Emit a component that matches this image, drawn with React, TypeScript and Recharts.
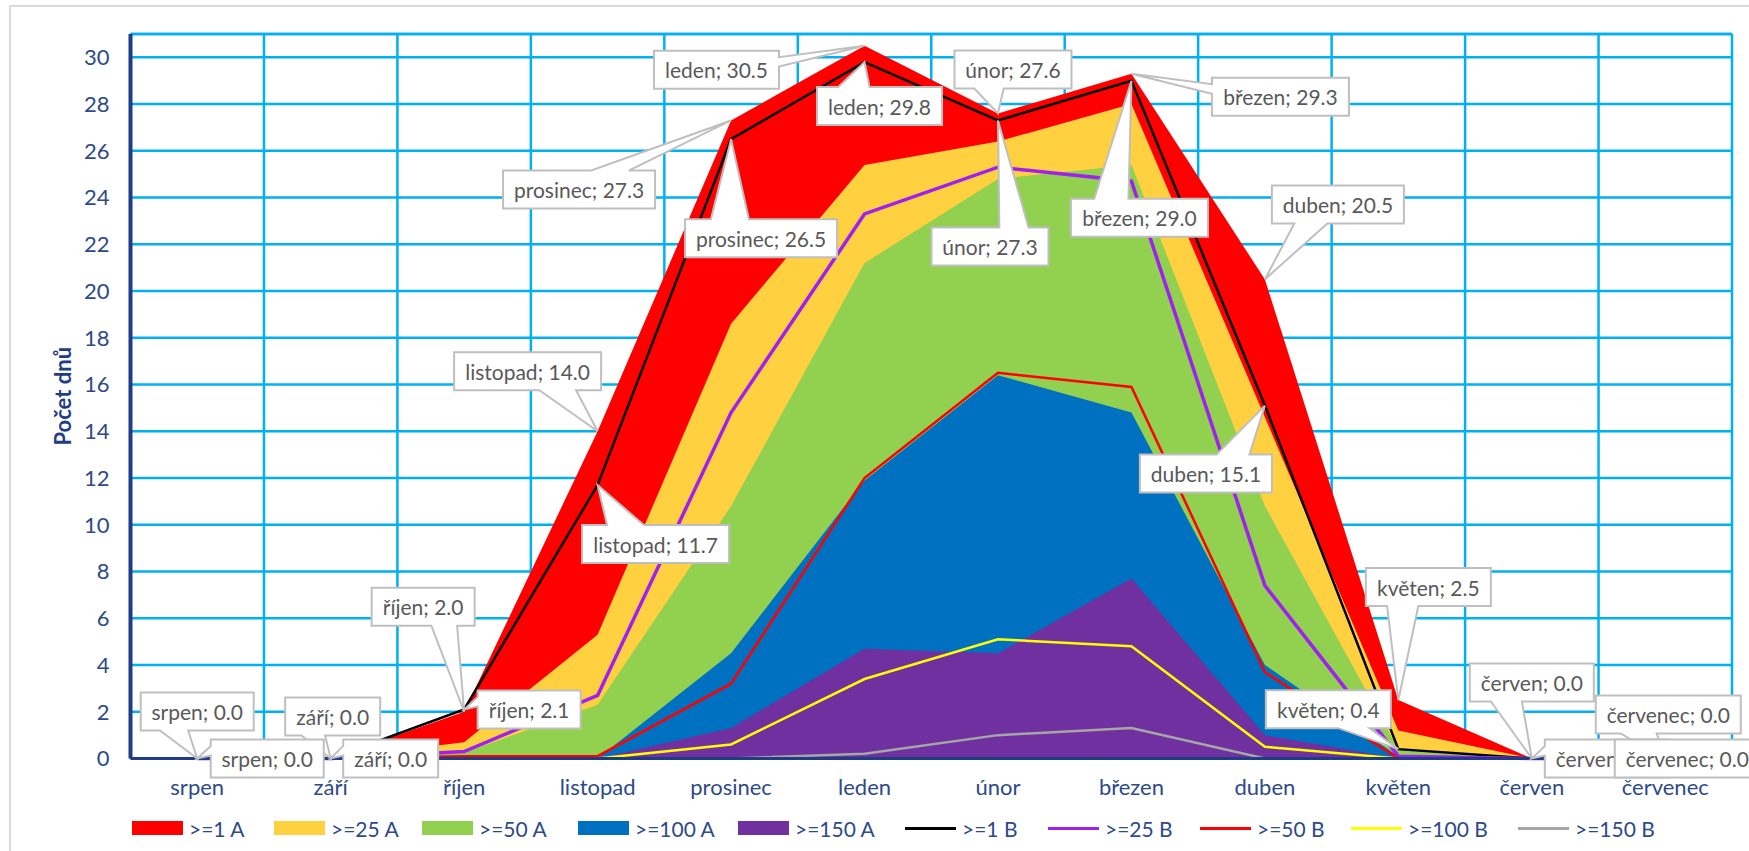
import { ComposedChart, Area, Line, XAxis, YAxis, CartesianGrid, Legend, LabelList, ReferenceLine } from 'recharts';

const months = ['srpen', 'září', 'říjen', 'listopad', 'prosinec', 'leden', 'únor', 'březen', 'duben', 'květen', 'červen', 'červenec'];

// A series (areas)
const a1 = [0, 0, 2.0, 14.0, 27.3, 30.5, 27.6, 29.3, 20.5, 2.5, 0, 0];
const a25 = [0, 0, 0.7, 5.3, 18.6, 25.4, 26.4, 28.0, 14.6, 1.2, 0, 0];
const a50 = [0, 0, 0.25, 2.3, 10.8, 21.2, 24.8, 25.4, 10.8, 0.4, 0, 0];
const a100 = [0, 0, 0, 0, 4.5, 11.9, 16.4, 14.8, 4.0, 0.1, 0, 0];
const a150 = [0, 0, 0, 0, 1.3, 4.7, 4.5, 7.7, 1.0, 0, 0, 0];

// B series (lines)
const b1 = [0, 0, 2.1, 11.7, 26.5, 29.8, 27.3, 29.0, 15.1, 0.4, 0, 0];
const b25 = [0, 0, 0.3, 2.7, 14.8, 23.3, 25.3, 24.7, 7.4, 0.1, 0, 0];
const b50 = [0, 0, 0.1, 0.1, 3.2, 12.0, 16.5, 15.9, 3.7, 0, 0, 0];
const b100 = [0, 0, 0, 0, 0.6, 3.4, 5.1, 4.8, 0.5, 0, 0, 0];
const b150 = [0, 0, 0, 0, 0, 0.2, 1.0, 1.3, 0, 0, 0, 0];

const yTicks = [0, 2, 4, 6, 8, 10, 12, 14, 16, 18, 20, 22, 24, 26, 28, 30];

const areaSeries = [
  { key: 'a1', name: '>=1 A', color: '#FF0000', values: a1 },
  { key: 'a25', name: '>=25 A', color: '#FFD040', values: a25 },
  { key: 'a50', name: '>=50 A', color: '#92D050', values: a50 },
  { key: 'a100', name: '>=100 A', color: '#0070C0', values: a100 },
  { key: 'a150', name: '>=150 A', color: '#7030A0', values: a150 },
];

const lineSeries = [
  { key: 'b1', name: '>=1 B', color: '#000000', width: 2.5, values: b1 },
  { key: 'b25', name: '>=25 B', color: '#A020F0', width: 3.5, values: b25 },
  { key: 'b50', name: '>=50 B', color: '#FF0000', width: 2.5, values: b50 },
  { key: 'b100', name: '>=100 B', color: '#FFFF00', width: 2.5, values: b100 },
  { key: 'b150', name: '>=150 B', color: '#A6A6A6', width: 2.5, values: b150 },
];

// callout box centre relative to the point it points at
const upperOffsets: [number, number][] = [
  [0, -47], [2, -42], [-41, -105], [-70, -60], [-152, 69], [-148, 24],
  [15, -44], [149, 23], [73, -75], [30, -113], [0, -76], [3, -44],
];
const lowerOffsets: [number, number][] = [
  [70, 0], [60, 0], [65, 0], [58, 59], [30, 99], [15, 44],
  [-8, 126], [8, 137], [-59, 68], [-70, -40], [75, 0], [22, 0],
];

// legend item left edges (chart coords)
const legendLeft = [121, 263, 411, 567, 727, 894, 1037, 1189, 1340, 1507];

const data = months.map((m, i) => {
  const row: Record<string, any> = { month: m };
  areaSeries.forEach((s) => (row[s.key] = s.values[i]));
  lineSeries.forEach((s) => (row[s.key] = s.values[i]));
  return row;
});

const FONT = 'Lato';
const NAVY = '#2E4A88';

let ctx: CanvasRenderingContext2D | null = null;
const measure = (s: string, size: number) => {
  if (!ctx) ctx = document.createElement('canvas').getContext('2d');
  if (!ctx) return s.length * size * 0.5;
  ctx.font = `${size}px ${FONT}`;
  return ctx.measureText(s).width;
};

function calloutPath(x0: number, y0: number, w: number, h: number, tx: number, ty: number) {
  const x1 = x0 + w, y1 = y0 + h, cx = x0 + w / 2, cy = y0 + h / 2;
  const nx = (tx - cx) / (w / 2), ny = (ty - cy) / (h / 2);
  if (Math.abs(nx) <= 1 && Math.abs(ny) <= 1) {
    return `M${x0},${y0} L${x1},${y0} L${x1},${y1} L${x0},${y1} Z`;
  }
  if (Math.abs(ny) >= Math.abs(nx)) {
    const left = tx <= cx;
    const p1 = x0 + w * (left ? 0.17 : 0.58);
    const p2 = x0 + w * (left ? 0.42 : 0.83);
    if (ny < 0) return `M${x0},${y0} L${p1},${y0} L${tx},${ty} L${p2},${y0} L${x1},${y0} L${x1},${y1} L${x0},${y1} Z`;
    return `M${x0},${y0} L${x1},${y0} L${x1},${y1} L${p2},${y1} L${tx},${ty} L${p1},${y1} L${x0},${y1} Z`;
  }
  const up = ty <= cy;
  const q1 = y0 + h * (up ? 0.17 : 0.58);
  const q2 = y0 + h * (up ? 0.42 : 0.83);
  if (nx > 0) return `M${x0},${y0} L${x1},${y0} L${x1},${q1} L${tx},${ty} L${x1},${q2} L${x1},${y1} L${x0},${y1} Z`;
  return `M${x0},${y0} L${x1},${y0} L${x1},${y1} L${x0},${y1} L${x0},${q2} L${tx},${ty} L${x0},${q1} Z`;
}

const makeCallout = (offsets: [number, number][]) => (props: any) => {
  const x = props.x ?? props.viewBox?.x;
  const y = props.y ?? props.viewBox?.y;
  const { value, index } = props;
  if (x == null || y == null || index == null) return null;
  const text = `${months[index]}; ${Number(value).toFixed(1)}`;
  const w = Math.round(measure(text, 21)) + 22;
  const h = 38;
  const [dx, dy] = offsets[index];
  const cx = x + dx, cy = y + dy;
  return (
    <g key={`c-${index}`}>
      <path d={calloutPath(cx - w / 2, cy - h / 2, w, h, x, y)} fill="#FFFFFF" stroke="#BFBFBF" strokeWidth={2} />
      <text x={cx} y={cy} textAnchor="middle" dominantBaseline="central" fontFamily={FONT} fontSize={21} fill="#595959">
        {text}
      </text>
    </g>
  );
};

const LegendRow = () => (
  <div style={{ position: 'relative', height: 34, fontFamily: FONT, fontSize: 21, color: NAVY }}>
    {[...areaSeries.map((s) => ({ ...s, kind: 'area' })), ...lineSeries.map((s) => ({ ...s, kind: 'line' }))].map((s, i) => (
      <div key={s.key} style={{ position: 'absolute', left: legendLeft[i], top: 0, height: 34, display: 'flex', alignItems: 'center', whiteSpace: 'nowrap' }}>
        <div style={{ width: 51, height: s.kind === 'area' ? 14 : 3, background: s.color }} />
        <span style={{ marginLeft: 6 }}>{s.name}</span>
      </div>
    ))}
  </div>
);

const YTitle = (props: any) => {
  const vb = props.viewBox || {};
  const x = vb.x - 8.5;
  const y = vb.y + vb.height / 2;
  return (
    <text x={x} y={y} transform={`rotate(-90 ${x} ${y})`} textAnchor="middle" dominantBaseline="central" fontFamily={FONT} fontSize={22} fontWeight="bold" fill="#1F3D86">
      Počet dnů
    </text>
  );
};

export default function App() {
  return (
    <div style={{ position: 'fixed', left: 9, top: 5, width: 1750, height: 860, borderTop: '2px solid #D9D9D9', borderLeft: '2px solid #D9D9D9', background: '#fff' }}>
      <ComposedChart width={1745} height={846} data={data} margin={{ top: 27, right: 24, left: 59.5, bottom: 16.5 }} style={{ fontFamily: FONT }}>
        <CartesianGrid
          stroke="#00B0F0"
          strokeWidth={2.5}
          verticalCoordinatesGenerator={({ offset }: any) =>
            Array.from({ length: months.length + 1 }, (_, i) => offset.left + (i * offset.width) / months.length)
          }
        />
        <ReferenceLine y={31} stroke="#00B0F0" strokeWidth={2.5} />
        <XAxis
          dataKey="month"
          scale="point"
          padding={{ left: 1601.5 / 24, right: 1601.5 / 24 }}
          height={44}
          tickLine={false}
          tickSize={0}
          tickMargin={21}
          interval={0}
          axisLine={{ stroke: '#1F3D86', strokeWidth: 3 }}
          tick={{ fill: NAVY, fontSize: 22, fontFamily: FONT }}
        />
        <YAxis
          type="number"
          domain={[0, 31]}
          ticks={yTicks}
          interval={0}
          width={60}
          tickLine={false}
          tickSize={0}
          tickMargin={21}
          axisLine={{ stroke: '#1F3D86', strokeWidth: 4 }}
          tick={{ fill: NAVY, fontSize: 22, fontFamily: FONT }}
          label={<YTitle />}
        />
        {areaSeries.map((s) => (
          <Area
            key={s.key}
            type="linear"
            dataKey={s.key}
            name={s.name}
            stroke="none"
            fill={s.color}
            fillOpacity={1}
            dot={false}
            activeDot={false}
            legendType="rect"
            isAnimationActive={false}
          />
        ))}
        {lineSeries.map((s) => (
          <Line
            key={s.key}
            type="linear"
            dataKey={s.key}
            name={s.name}
            stroke={s.color}
            strokeWidth={s.width}
            dot={false}
            activeDot={false}
            legendType="line"
            isAnimationActive={false}
          />
        ))}
        <Line dataKey="a1" stroke="transparent" strokeWidth={0} dot={false} activeDot={false} legendType="none" isAnimationActive={false}>
          <LabelList dataKey="a1" content={makeCallout(upperOffsets)} />
        </Line>
        <Line dataKey="b1" stroke="transparent" strokeWidth={0} dot={false} activeDot={false} legendType="none" isAnimationActive={false}>
          <LabelList dataKey="b1" content={makeCallout(lowerOffsets)} />
        </Line>
        <Legend verticalAlign="bottom" content={() => <LegendRow />} wrapperStyle={{ left: 0, bottom: 8, width: 1745, height: 34 }} />
      </ComposedChart>
    </div>
  );
}
